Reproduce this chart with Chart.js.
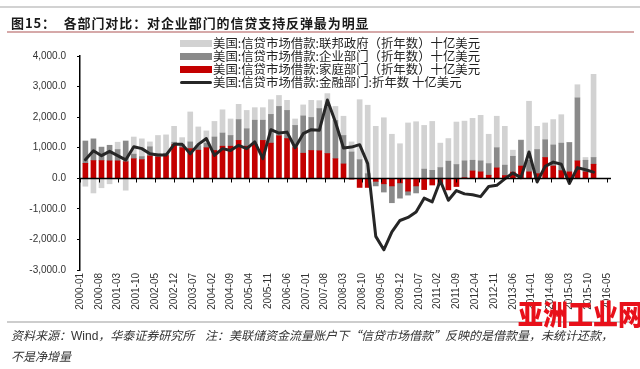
<!DOCTYPE html>
<html>
<head>
<meta charset="utf-8">
<script src="https://cdn.jsdelivr.net/npm/chart.js@4.4.1/dist/chart.umd.min.js"></script>
<style>
  html, body { margin: 0; padding: 0; background: #fff; }
  #wrap { position: relative; width: 640px; height: 369px; overflow: hidden; font-family: "Liberation Sans", "Noto Sans CJK SC", sans-serif; }
  #chart { position: absolute; left: 0; top: 0; }
  .topline { position: absolute; left: 0; top: 6px; width: 640px; height: 2px; background: #d2d2d2; }
  .title { position: absolute; left: 11px; top: 14px; font-family: "Noto Sans CJK SC", sans-serif; font-size: 13px; font-weight: bold; color: #1a1a1a; letter-spacing: 0.9px; white-space: nowrap; line-height: 18px; }
  .redline { position: absolute; left: 7px; top: 31px; width: 627px; height: 2px; background: #d6a9a9; }
  .legend { position: absolute; left: 180px; top: 37px; }
  .item { display: flex; align-items: center; height: 13px; font-family: "Noto Sans CJK SC", sans-serif; font-size: 12.4px; color: #222; white-space: nowrap; line-height: 13px; }
  .sw { width: 32px; height: 7px; margin-right: 1px; }
  .sw.line { height: 3px; border-radius: 2px; }
  .bottomline { position: absolute; left: 7px; top: 321px; width: 627px; height: 2px; background: #cdcdcd; }
  .note { position: absolute; left: 11px; top: 325px; font-family: "Noto Sans CJK SC", sans-serif; font-size: 12px; font-style: italic; color: #333; line-height: 20px; white-space: nowrap; }
  .note .w { font-family: "Liberation Sans", sans-serif; font-style: normal; }
  .mark { position: absolute; left: 518px; top: 294px; font-family: "Noto Sans CJK SC", sans-serif; font-size: 25px; font-weight: 900; color: #e8101a; white-space: nowrap; line-height: 32px; transform: scaleY(1.15); transform-origin: top left; }
</style>
</head>
<body>
<div id="wrap">
  <canvas id="chart" width="640" height="369"></canvas>
  <div class="topline"></div>
  <div class="title">图15：&nbsp;&nbsp;各部门对比：对企业部门的信贷支持反弹最为明显</div>
  <div class="redline"></div>
  <div class="legend" id="legend"></div>
  <div class="bottomline"></div>
  <div class="note">资料来源：<span class="w">Wind</span>，华泰证券研究所&nbsp;&nbsp;&nbsp;&nbsp;注：美联储资金流量账户下“信贷市场借款”反映的是借款量，未统计还款，<br>不是净增量</div>
  <div class="mark">亚洲工业网</div>
</div>
<script>
// 季度数据：2000Q1 - 2015Q4，季末月份
const startYear = 2000;
const quarterCount = 64;

// 十亿美元（折年数）
const household = [
  490, 580, 580, 570, 570, 540, 640, 610, 730, 700, 740, 1100, 1000, 970, 920, 1000,
  910, 1050, 1050, 1240, 1050, 1110, 1240, 1150, 1390, 1300, 1000, 820, 910, 900, 810, 640,
  470, -30, -300, -300, -100, -180, -250, -150, -420, -250, -370, -220, -200, -380, -270, 20,
  240, 210, 100, 340, 90, 200, 400, 210, 150, 680, 400, 250, 210, 570, 210, 460
];
const corporate = [
  730, 710, 440, 510, 370, 680, 150, 100, 300, 100, 80, 80, 100, 220, 150, 150,
  440, 430, 350, 680, 570, 790, 660, 940, 960, 920, 730, 1220, 1080, 1380, 1540, 1250,
  930, 860, 610, 150, -150, -270, -550, -500, -130, -230, 300, 260, 350, 560, 450, 550,
  350, 360, 380, 660, 340, 520, 840, 380, 790, 580, 690, 900, 960, 2060, 380, 220
];
const federal = [
  -260, -480, -310, -180, 240, -390, 560, 580, 160, 600, 600, 520, 230, 980, 610, 400,
  510, 760, 540, 500, 600, 410, 410, 480, 360, 330, 210, 360, 560, 260, 420, 460,
  630, 330, 1960, 2240, 1700, 1980, 1440, 1130, 1810, 1850, 1430, 1600, 800, 740, 1390, 1300,
  1370, 1490, 960, 1030, 1270, 200, 20, 1930, 760, 550, 830, 930, 0, 430, 90, 2720
];
const financial = [
  610, 900, 740, 880, 740, 600, 1030, 970, 800, 760, 760, 1110, 1110, 800, 1110, 1300,
  750, 970, 910, 1080, 970, 1190, 640, 1590, 1480, 1510, 1000, 1460, 1590, 1570, 2560, 1840,
  990, 1020, 1100, 480, -1900, -2340, -1750, -1380, -1280, -1100, -650, -770, -80, -720, -400, -510,
  -540, -600, -270, -230, -20, 170, 20, 860, -120, 390, 530, 460, -170, 350, 280, 200
];

const xTickLabels = [
  "2000-01", "2000-08", "2001-03", "2001-10", "2002-05", "2002-12", "2003-07", "2004-02",
  "2004-09", "2005-04", "2005-11", "2006-06", "2007-01", "2007-08", "2008-03", "2008-10",
  "2009-05", "2009-12", "2010-07", "2011-02", "2011-09", "2012-04", "2012-11", "2013-06",
  "2014-01", "2014-08", "2015-03", "2015-10", "2016-05"
];
const yTicks = [-3000, -2000, -1000, 0, 1000, 2000, 3000, 4000];

const seriesNames = {
  federal: "美国:信贷市场借款:联邦政府（折年数）十亿美元",
  corporate: "美国:信贷市场借款:企业部门（折年数）十亿美元",
  household: "美国:信贷市场借款:家庭部门（折年数）十亿美元",
  financial: "美国:信贷市场借款:金融部门:折年数 十亿美元",
};
const colors = {
  federal: "#d2d2d2",
  corporate: "#8a8a8a",
  household: "#c40000",
  financial: "#262626",
};

function monthIndex(label) {
  const [y, m] = label.split("-").map(Number);
  return (y - startYear) * 12 + (m - 1);
}
function monthLabel(idx) {
  const y = startYear + Math.floor(idx / 12);
  const m = (idx % 12) + 1;
  return y + "-" + (m < 10 ? "0" + m : m);
}

// 季末月份位置（3月、6月、9月、12月）
const quarterX = [];
for (let i = 0; i < quarterCount; i++) quarterX.push(2 + i * 3);

const toPoints = (arr) => arr.map((v, i) => ({ x: quarterX[i], y: v }));

function buildLegend() {
  const el = document.getElementById("legend");
  ["federal", "corporate", "household", "financial"].forEach((k) => {
    const cls = k === "financial" ? "sw line" : "sw";
    el.innerHTML += `<div class="item"><span class="${cls}" style="background:${colors[k]}"></span>${seriesNames[k]}</div>`;
  });
}

// 零轴及其刻度
const zeroAxis = {
  id: "zeroAxis",
  afterDatasetsDraw(chart) {
    const { ctx, chartArea, scales } = chart;
    const y0 = Math.round(scales.y.getPixelForValue(0)) + 0.5;
    ctx.save();
    ctx.strokeStyle = "#000";
    ctx.lineWidth = 1.5;
    ctx.beginPath();
    ctx.moveTo(chartArea.left, y0);
    ctx.lineTo(chartArea.right + 4, y0);
    ctx.stroke();
    ctx.lineWidth = 1;
    xTickLabels.forEach((l) => {
      const x = Math.round(scales.x.getPixelForValue(monthIndex(l))) + 0.5;
      ctx.beginPath();
      ctx.moveTo(x, y0);
      ctx.lineTo(x, y0 + 4);
      ctx.stroke();
    });
    ctx.restore();
  },
};

function drawChart() {
  const ctx = document.getElementById("chart").getContext("2d");
  const barBase = { type: "bar", barThickness: 5, order: 1, stack: "s", borderWidth: 0 };
  new Chart(ctx, {
    type: "bar",
    data: {
      datasets: [
        { ...barBase, label: seriesNames.household, data: toPoints(household), backgroundColor: colors.household },
        { ...barBase, label: seriesNames.corporate, data: toPoints(corporate), backgroundColor: colors.corporate },
        { ...barBase, label: seriesNames.federal, data: toPoints(federal), backgroundColor: colors.federal },
        {
          type: "line",
          label: seriesNames.financial,
          data: toPoints(financial),
          borderColor: colors.financial,
          backgroundColor: colors.financial,
          borderWidth: 3,
          pointRadius: 0,
          tension: 0,
          order: 0,
          stack: "fin",
          borderJoinStyle: "round",
          borderCapStyle: "round",
        },
      ],
    },
    options: {
      responsive: false,
      animation: false,
      layout: { padding: { top: 56, right: 33, bottom: 0, left: 0 } },
      plugins: { legend: { display: false }, tooltip: { enabled: false }, title: { display: false } },
      scales: {
        x: {
          type: "linear",
          min: 0,
          max: monthIndex(xTickLabels[xTickLabels.length - 1]),
          stacked: true,
          offset: false,
          grid: { display: false, drawTicks: false },
          border: { display: false },
          afterBuildTicks: (scale) => {
            scale.ticks = xTickLabels.map((l) => ({ value: monthIndex(l) }));
          },
          afterFit: (scale) => { scale.height = 99; },
          ticks: {
            autoSkip: false,
            maxRotation: 90,
            minRotation: 90,
            padding: 3,
            color: "#333",
            font: { family: "Liberation Sans", size: 10 },
            callback: (v) => monthLabel(v),
          },
        },
        y: {
          stacked: true,
          min: -3000,
          max: 4000,
          afterBuildTicks: (scale) => {
            scale.ticks = yTicks.map((v) => ({ value: v }));
          },
          afterFit: (scale) => { scale.width = 80; },
          grid: { drawOnChartArea: false, drawTicks: true, tickLength: 3, color: "#000" },
          border: { display: true, color: "#000", width: 1.5 },
          ticks: {
            padding: 11,
            color: "#333",
            font: { family: "Liberation Sans", size: 10 },
            callback: (v) => v.toLocaleString("en-US", { minimumFractionDigits: 1, maximumFractionDigits: 1 }),
          },
        },
      },
    },
    plugins: [zeroAxis],
  });
}

buildLegend();
drawChart();
</script>
</body>
</html>
